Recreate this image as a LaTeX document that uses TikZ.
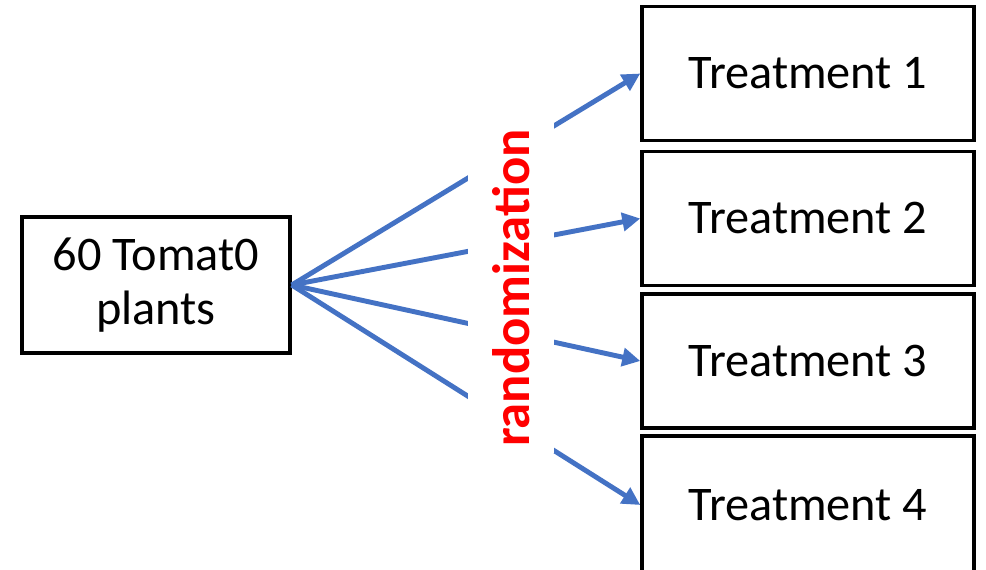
\documentclass[tikz,border=0pt]{standalone}
\usepackage{fontspec}
\setmainfont{Carlito}
\usetikzlibrary{arrows.meta}

\begin{document}
\begin{tikzpicture}[x=0.02cm,y=-0.02cm,
   box/.style={draw,line width=2pt,minimum width=6.64cm,minimum height=2.68cm,
               font=\fontsize{27.5}{31}\selectfont,align=center},
   link/.style={draw={rgb,255:red,68;green,114;blue,196},line width=2.8pt,
               -{Triangle[length=0.36cm,width=0.36cm]}}]
   \useasboundingbox (0,0) rectangle (986,570);
   \node[box,minimum width=5.36cm,minimum height=2.72cm] (plants) at (156,285) {60 Tomat0\\plants};
   \node[box] (t1) at (808,73.5) {Treatment 1};
   \node[box] (t2) at (808,218.5) {Treatment 2};
   \node[box] (t3) at (808,361) {Treatment 3};
   \node[box,minimum height=2.76cm] (t4) at (808,505) {Treatment 4};
   \foreach \t in {t1,t2,t3,t4}
      \draw[link] (plants.east) -- (\t.west);
   % white band that cuts the arrows
   \node[rotate=90,fill=white,inner sep=0pt,minimum width=6.6cm,minimum height=1.72cm,
         text=red,font=\fontsize{30}{34}\selectfont\bfseries] (rand) at (511,288) {randomization};
\end{tikzpicture}
\end{document}
